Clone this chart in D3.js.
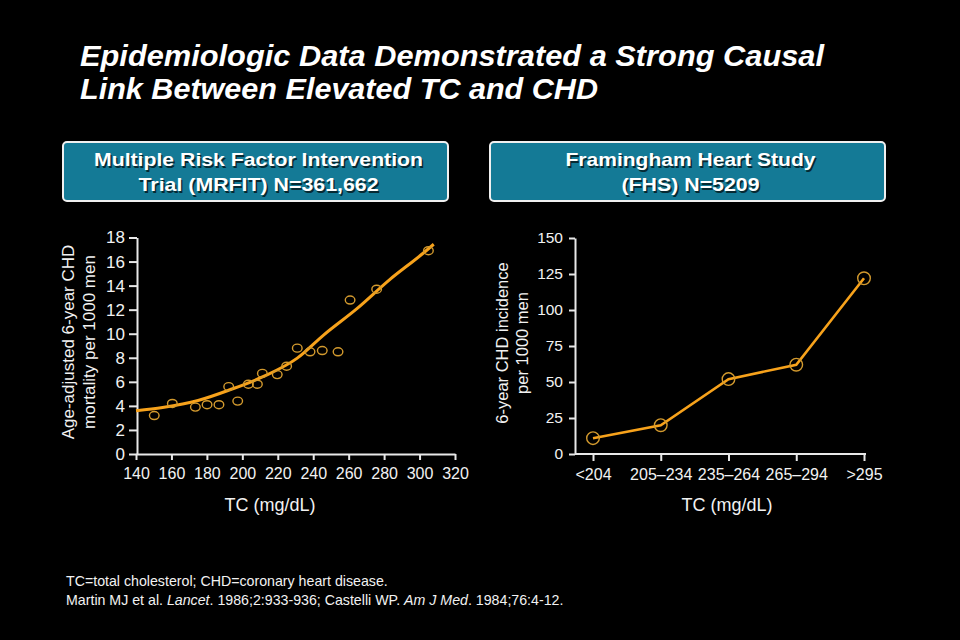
<!DOCTYPE html>
<html><head><meta charset="utf-8">
<script src="https://cdn.jsdelivr.net/npm/d3@7"></script>
<style>
html,body{margin:0;padding:0;background:#000;}
svg{display:block;}
text{font-family:"Liberation Sans",Arial,sans-serif;}
</style></head>
<body>
<svg id="chart" width="960" height="640"></svg>
<script>
// ---- Data ----
const titleLines = ["Epidemiologic Data Demonstrated a Strong Causal", "Link Between Elevated TC and CHD"];
const mrfitHeader = ["Multiple Risk Factor Intervention", "Trial (MRFIT) N=361,662"];
const fhsHeader = ["Framingham Heart Study", "(FHS) N=5209"];

const mrfitTC = [150.3,160.5,173.5,180.1,186.8,192.3,197.4,203.4,208.5,211.3,219.7,225.0,231.0,238.2,245.1,254.0,260.8,275.8,305.0];
const mrfitMortality = [3.2,4.2,3.9,4.1,4.1,5.6,4.4,5.8,5.8,6.7,6.6,7.3,8.8,8.5,8.6,8.5,12.8,13.7,16.9];
const fitTC = [140,155,175,193,212,231,246,265,283,302,308];
const fitMortality = [3.6,3.87,4.45,5.34,6.45,7.97,9.91,12.13,14.48,16.69,17.44];
const mrfitXTicks = [140,160,180,200,220,240,260,280,300,320];
const mrfitYTicks = [0,2,4,6,8,10,12,14,16,18];

const fhsGroups = ["<204","205\u2013234","235\u2013264","265\u2013294",">295"];
const fhsIncidence = [11,20,52,62,122];
const fhsYTicks = [0,25,50,75,100,125,150];

const footnotes = ["TC=total cholesterol; CHD=coronary heart disease."];

// ---- Drawing ----
const svg = d3.select("#chart");
svg.append("rect").attr("width",960).attr("height",640).attr("fill","#000");

const lineColor = "#f7a21b", dotColor = "#d39a2e", axisColor = "#e8e8e8", textColor = "#f2f2f2";

// Title
const title = svg.append("g");
titleLines.forEach((t,i)=>{
  title.append("text").attr("x",80).attr("y",66+i*33)
    .attr("fill","#fff").attr("font-size",29.5).attr("font-weight","bold").attr("font-style","italic")
    .attr("font-family","'Liberation Sans Narrow','Liberation Sans',Arial,sans-serif")
    .attr("textLength", i===0?744:518).attr("lengthAdjust","spacingAndGlyphs")
    .text(t);
});

// Header boxes
function header(x,w,lines,tl){
  const g = svg.append("g");
  g.append("rect").attr("x",x).attr("y",142).attr("width",w).attr("height",59).attr("rx",4)
    .attr("fill","#147a96").attr("stroke","#f0f0f0").attr("stroke-width",2);
  lines.forEach((t,i)=>{
    [["#062a33",1.5],["#fff",0]].forEach(([c,o])=>{
      g.append("text").attr("x",x+w/2+3+o).attr("y",166+i*25+o).attr("text-anchor","middle")
        .attr("fill",c).attr("font-size",19).attr("font-weight","bold")
        .attr("textLength",tl[i]).attr("lengthAdjust","spacingAndGlyphs").text(t);
    });
  });
}
header(63,385,mrfitHeader,[329,240]);
header(490,395,fhsHeader,[250,138]);

function styleAxis(g,fs){
  g.selectAll(".domain").attr("stroke",axisColor).attr("stroke-width",2);
  g.selectAll(".tick line").attr("stroke",axisColor).attr("stroke-width",2);
  g.selectAll(".tick text").attr("fill",textColor).attr("font-size",fs)
    .attr("font-family","'Liberation Sans',Arial,sans-serif");
}

// Left chart
const xL = d3.scaleLinear().domain([140,320]).range([136,455]);
const yL = d3.scaleLinear().domain([0,18]).range([454,237.5]);

const gxL = svg.append("g").attr("transform","translate(0,454)")
  .call(d3.axisBottom(xL).tickValues(mrfitXTicks).tickSize(6).tickSizeOuter(0).tickPadding(8));
styleAxis(gxL,16);
const gyL = svg.append("g").attr("transform","translate(137,0)")
  .call(d3.axisLeft(yL).tickValues(mrfitYTicks).tickSize(8).tickSizeOuter(0).tickPadding(4));
styleAxis(gyL,17);

svg.append("path").datum(fitTC.map((d,i)=>[d,fitMortality[i]]))
  .attr("fill","none").attr("stroke",lineColor).attr("stroke-width",3)
  .attr("d",d3.line().x(d=>xL(d[0])).y(d=>yL(d[1])).curve(d3.curveMonotoneX));

svg.append("g").selectAll("ellipse").data(mrfitTC.map((d,i)=>[d,mrfitMortality[i]])).join("ellipse")
  .attr("cx",d=>xL(d[0])).attr("cy",d=>yL(d[1])).attr("rx",4.8).attr("ry",4)
  .attr("fill","none").attr("stroke",dotColor).attr("stroke-width",1.4);

svg.append("text").attr("x",270).attr("y",511).attr("text-anchor","middle")
  .attr("fill",textColor).attr("font-size",18).text("TC (mg/dL)");
const ylab = svg.append("text").attr("transform","translate(76,342) rotate(-90)")
  .attr("text-anchor","middle").attr("fill",textColor).attr("font-size",17);
ylab.append("tspan").attr("x",0).attr("dy",-2).text("Age-adjusted 6-year CHD");
ylab.append("tspan").attr("x",0).attr("dy",21).text("mortality per 1000 men");

// Right chart
const xR = d3.scalePoint().domain(fhsGroups).range([593,864]);
const yR = d3.scaleLinear().domain([0,150]).range([454,238]);

const gxR = svg.append("g").attr("transform","translate(0,454)")
  .call(d3.axisBottom(xR).tickSize(7).tickSizeOuter(0).tickPadding(8));
gxR.select(".domain").attr("d","M575,0H866");
styleAxis(gxR,16);
const gyR = svg.append("g").attr("transform","translate(575,0)")
  .call(d3.axisLeft(yR).tickValues(fhsYTicks).tickSize(6).tickSizeOuter(0).tickPadding(6));
styleAxis(gyR,15.5);

svg.append("path").datum(fhsGroups.map((g,i)=>[g,fhsIncidence[i]]))
  .attr("fill","none").attr("stroke",lineColor).attr("stroke-width",2.6)
  .attr("d",d3.line().x(d=>xR(d[0])).y(d=>yR(d[1])));
svg.append("g").selectAll("circle").data(fhsGroups.map((g,i)=>[g,fhsIncidence[i]])).join("circle")
  .attr("cx",d=>xR(d[0])).attr("cy",d=>yR(d[1])).attr("r",6.3)
  .attr("fill","none").attr("stroke",dotColor).attr("stroke-width",1.4);

svg.append("text").attr("x",727).attr("y",511).attr("text-anchor","middle")
  .attr("fill",textColor).attr("font-size",18).text("TC (mg/dL)");
const ylabR = svg.append("text").attr("transform","translate(509,343) rotate(-90)")
  .attr("text-anchor","middle").attr("fill",textColor).attr("font-size",16.5);
ylabR.append("tspan").attr("x",0).attr("dy",-1).text("6-year CHD incidence");
ylabR.append("tspan").attr("x",0).attr("dy",20).text("per 1000 men");

// Footnotes
const fs = 14.2;
svg.append("text").attr("x",66).attr("y",586).attr("fill",textColor).attr("font-size",fs).text(footnotes[0]);
const ref = svg.append("text").attr("x",66).attr("y",605).attr("fill",textColor).attr("font-size",fs);
ref.append("tspan").text("Martin MJ et al. ");
ref.append("tspan").attr("font-style","italic").text("Lancet");
ref.append("tspan").text(". 1986;2:933-936; Castelli WP. ");
ref.append("tspan").attr("font-style","italic").text("Am J Med");
ref.append("tspan").text(". 1984;76:4-12.");
</script>
</body></html>
